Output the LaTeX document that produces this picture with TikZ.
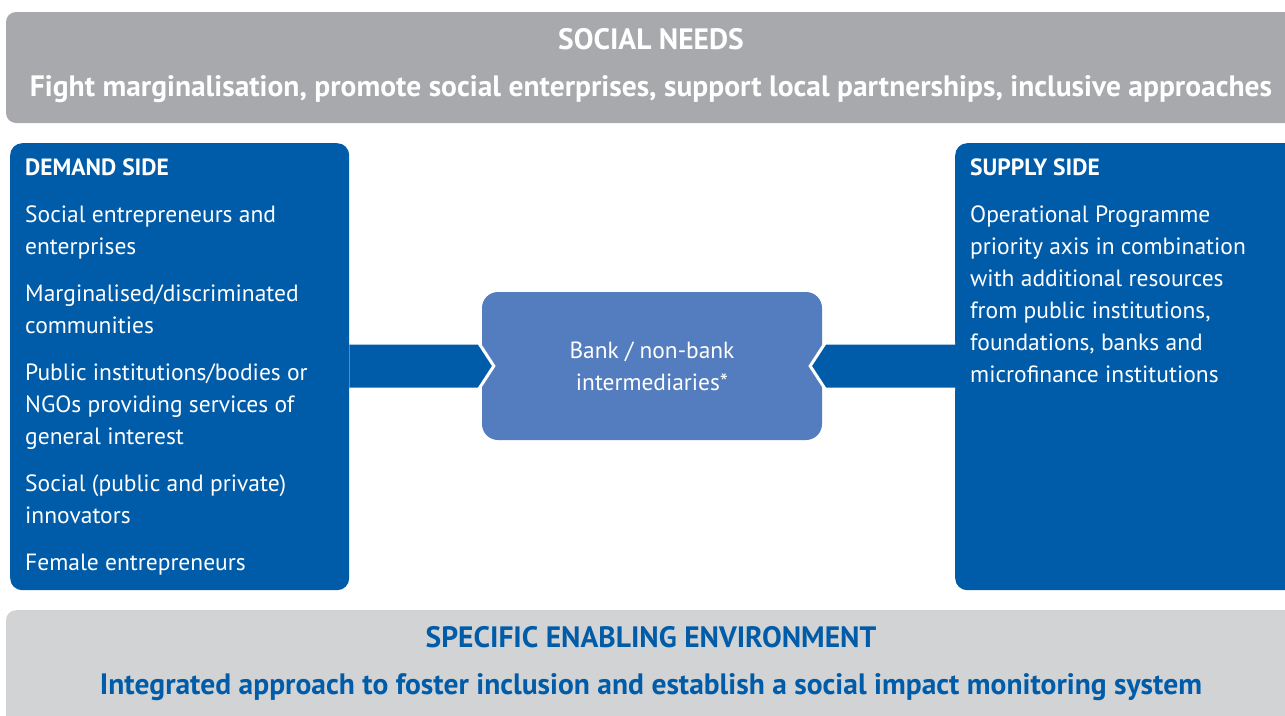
\documentclass[tikz,border=0pt]{standalone}
\usepackage{fontspec}
\setmainfont{PT Sans}
\usetikzlibrary{positioning}

\definecolor{eublue}{RGB}{0,92,169}
\definecolor{midblue}{RGB}{84,125,191}
\definecolor{needsgrey}{RGB}{167,169,172}
\definecolor{envgrey}{RGB}{209,211,212}

\tikzstyle{banner} = [
    rectangle,
    rounded corners=10pt,
    minimum width=1290pt,
    inner sep=0pt
]
\tikzstyle{side} = [
    rectangle,
    rounded corners=12pt,
    fill=eublue,
    minimum height=447pt,
    inner sep=0pt,
    anchor=north west
]
\tikzstyle{sidetext} = [
    text=white,
    align=left,
    inner sep=0pt,
    font=\fontsize{23.5}{32}\selectfont
]
\tikzstyle{broker} = [
    rectangle,
    rounded corners=16pt,
    fill=midblue,
    minimum width=340pt,
    minimum height=148pt,
    text=white,
    align=center,
    font=\fontsize{23.4}{32}\selectfont
]
\tikzstyle{bannertext} = [
    align=center,
    font=\bfseries\fontsize{29.5}{46.5}\selectfont
]
\tikzstyle{feed} = [fill=eublue, draw=white, line width=3pt, line join=miter]

\begin{document}
\begin{tikzpicture}[x=1pt, y=-1pt]

\clip (0,0) rectangle (1285,715);

\node (needs) [banner, fill=needsgrey, minimum height=111pt] at (651,67.5) {};
\node (needstext) [bannertext, text=white] at (651,65.5)
{SOCIAL NEEDS\\Fight marginalisation, promote social enterprises, support local partnerships, inclusive approaches};

\node (demand) [side, minimum width=339pt] at (10,143) {};
\node (supply) [side, minimum width=345pt] at (955,143) {};

\node (interm) [broker] at (652,366) {Bank / non-bank\\intermediaries*};

% feeds into the intermediaries box
\coordinate (din) at (demand.east |- interm.west);
\coordinate (sin) at (supply.west |- interm.east);
\draw [feed] ([yshift=23pt]din) -- ([xshift=-3pt,yshift=23pt]interm.west)
    -- ([xshift=12pt]interm.west) -- ([xshift=-3pt,yshift=-23pt]interm.west)
    -- ([yshift=-23pt]din);
\draw [feed] ([yshift=23pt]sin) -- ([xshift=3pt,yshift=23pt]interm.east)
    -- ([xshift=-12pt]interm.east) -- ([xshift=3pt,yshift=-23pt]interm.east)
    -- ([yshift=-23pt]sin);

\node (demandtext) [sidetext, below right=16pt and 15pt of demand.north west]
{\textbf{DEMAND SIDE}\\[15pt]
Social entrepreneurs and\\enterprises\\[15pt]
Marginalised/discriminated\\communities\\[15pt]
Public institutions/bodies or\\NGOs providing services of\\general interest\\[15pt]
Social (public and private)\\innovators\\[15pt]
Female entrepreneurs};

\node (supplytext) [sidetext, below right=16pt and 15pt of supply.north west]
{\textbf{SUPPLY SIDE}\\[15pt]
Operational Programme\\priority axis in combination\\with additional resources\\from public institutions,\\foundations, banks and\\microfinance institutions};

\node (enabling) [banner, fill=envgrey, minimum height=120pt, anchor=north] at (651,610) {};
\node (enablingtext) [bannertext, text=eublue] at (651,663.5)
{SPECIFIC ENABLING ENVIRONMENT\\Integrated approach to foster inclusion and establish a social impact monitoring system};

\end{tikzpicture}
\end{document}
